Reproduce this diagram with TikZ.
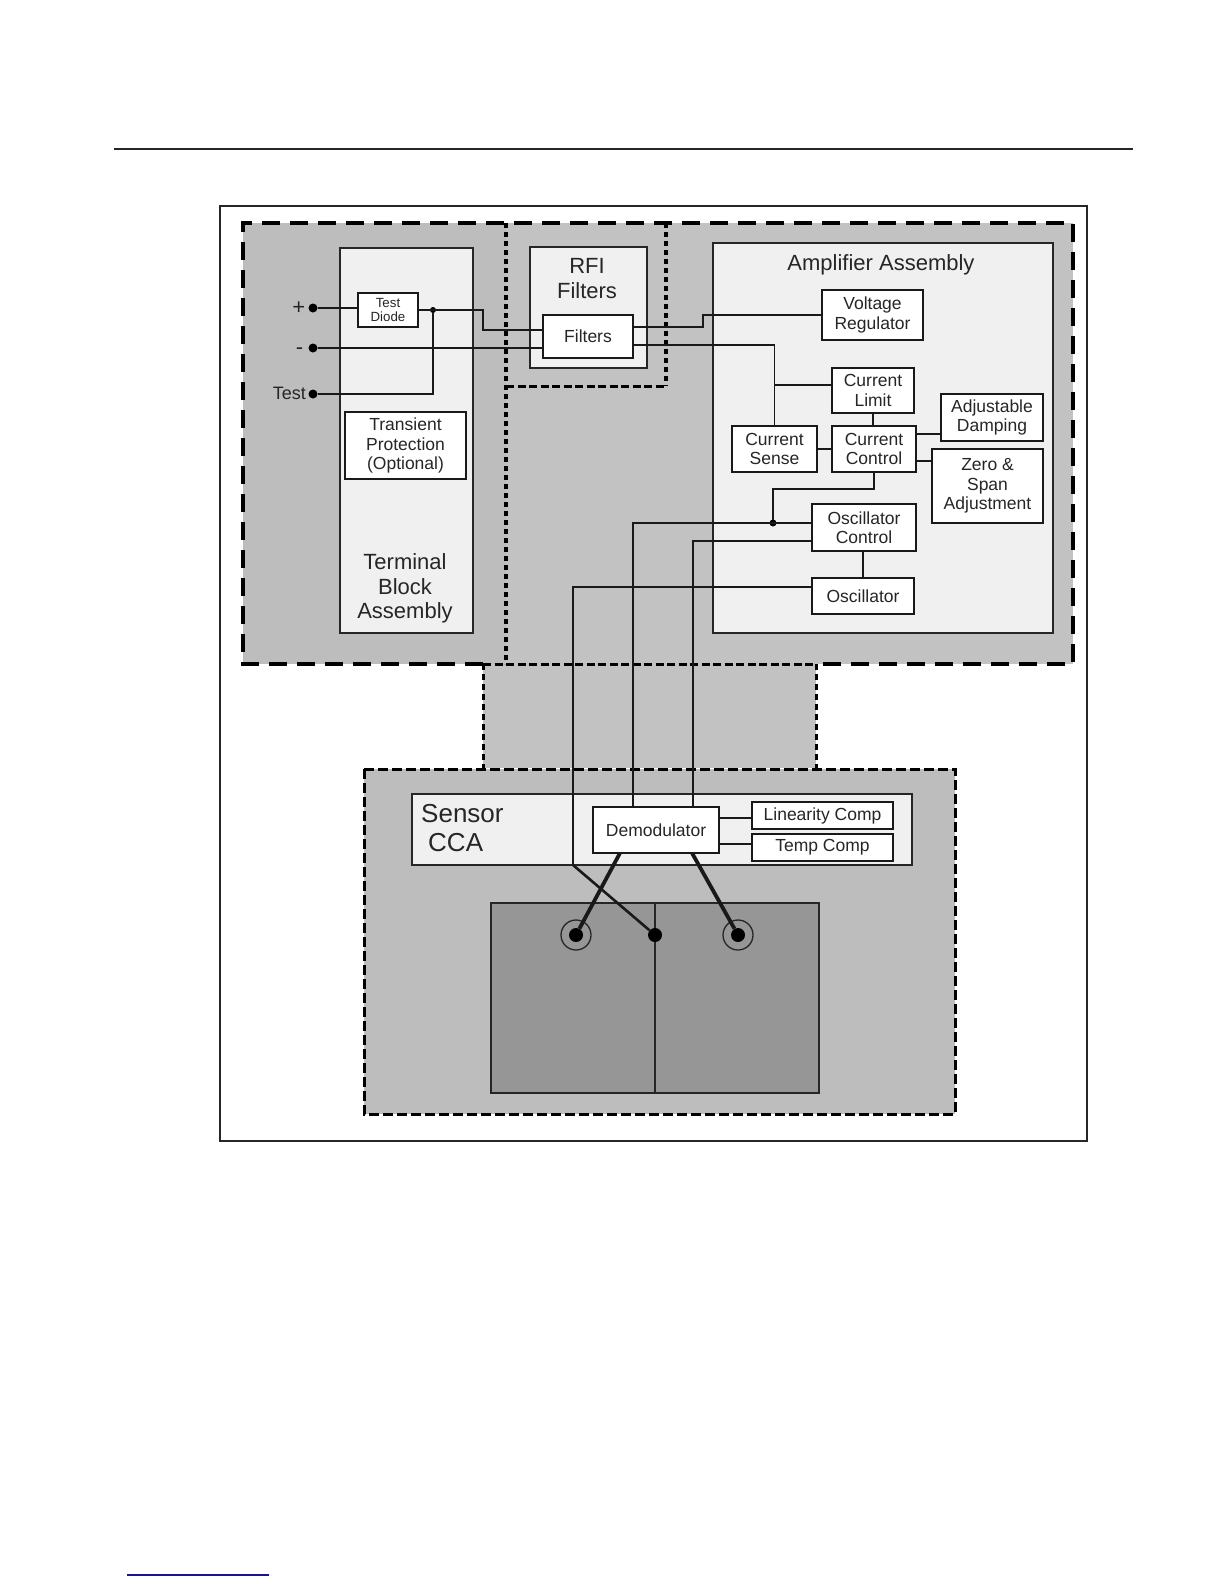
\documentclass[tikz,border=0pt]{standalone}
\usepackage{fontspec}
\setmainfont{Liberation Sans}
\usetikzlibrary{positioning,calc}
\definecolor{ZoneGray}{gray}{0.76}
\definecolor{ShadeGray}{gray}{0.74}
\definecolor{PlateGray}{gray}{0.59}
\definecolor{PanelGray}{gray}{0.94}
\definecolor{FootBlue}{RGB}{20,20,140}
\tikzset{
  every node/.style={text=black!85},
  wh/.style 2 args={minimum width=#1,minimum height=#2},
  zonefill/.style={fill=ZoneGray,inner sep=0,outer sep=0,anchor=north west},
  longdash/.style={line width=4pt,dash pattern=on 18pt off 10pt},
  middash/.style={line width=3pt,dash pattern=on 8pt off 3.5pt},
  sidedash/.style={line width=3pt,dash pattern=on 6pt off 4pt},
  dotline/.style={line width=3.2pt,dash pattern=on 5pt off 4pt},
  panel/.style={draw=black!85,fill=PanelGray,line width=1.5pt,inner sep=0,outer sep=0,anchor=north west},
  plate/.style={draw=black!85,fill=PlateGray,line width=1.5pt,inner sep=0,outer sep=0,anchor=north west},
  box/.style={draw=black!90,fill=white,line width=1.6pt,inner sep=0,outer sep=0,align=center,font=\fontsize{17.5}{19.5}\selectfont},
  smallbox/.style={box,font=\fontsize{13.3}{14.5}\selectfont},
  title/.style={inner sep=0,align=center,font=\fontsize{22}{24.5}\selectfont},
  term/.style={circle,fill=black,inner sep=0,outer sep=0,minimum size=9pt},
  joint/.style={circle,fill=black,inner sep=0,outer sep=0,minimum size=7pt},
  wire/.style={line width=1.5pt,draw=black!90},
  lead/.style={line width=3.8pt,draw=black!90},
}
\begin{document}
\begin{tikzpicture}[x=1pt,y=-1pt]
  \useasboundingbox (0,0) rectangle (1224,1584);
  % page rules and frame
  \coordinate (ruleL) at (114,149); \coordinate (ruleR) at (1133,149);
  \draw[line width=1.3pt,black!85] (ruleL)--(ruleR);
  \coordinate (footL) at (127,1575); \coordinate (footR) at (269,1575);
  \draw[line width=1.2pt,FootBlue] (footL)--(footR);
  \node[draw=black!85,line width=1.3pt,inner sep=0,outer sep=0,anchor=north west,wh={867}{935}] (frame) at (220,206) {};

  % shaded zones
  \node[zonefill,wh={830}{441}] (upper) at (243,223) {};
  \node[zonefill,fill=ShadeGray,wh={263}{441}] (leftzone) at (243,223) {};
  \node[zonefill,wh={160}{163}] (rfizone) at (506,223) {};
  \node[zonefill,wh={333}{104}] (midzone) at (483,664) {};
  \node[zonefill,fill=ShadeGray,wh={591}{345}] (sensorzone) at (364,769) {};
  \draw[longdash] (midzone.north west)--(upper.south west)--(upper.north west)--(upper.north east)--(upper.south east)--(midzone.north east);
  \draw[dotline] (rfizone.north west)--(rfizone.north west |- upper.south);
  \draw[dotline] (rfizone.north east)--(rfizone.south east);
  \draw[middash] (rfizone.south west)--(rfizone.south east);
  \draw[middash] (midzone.north west)--(midzone.north east);
  \draw[sidedash] (midzone.north west)--(midzone.south west);
  \draw[sidedash] (midzone.north east)--(midzone.south east);
  \draw[middash,dash pattern=on 10pt off 4pt] (sensorzone.north west)--(sensorzone.north east)--(sensorzone.south east)--(sensorzone.south west)--cycle;

  % panels
  \node[panel,wh={133}{385}] (termpanel) at (340,248) {};
  \node[panel,wh={117}{121}] (rfipanel) at (530,247) {};
  \node[panel,wh={340}{390}] (amppanel) at (713,243) {};
  \node[panel,wh={500}{71}] (sensorpanel) at (412,794) {};
  \node[plate,wh={164}{190}] (plateL) at (491,903) {};
  \node[plate,wh={164}{190}] (plateR) at (655,903) {};

  \node[title] (termtitle) at (405,588.5) {Terminal\\Block\\Assembly};
  \node[title] (rfititle) at (587,278.5) {RFI\\Filters};
  \node[title] (amptitle) at (881,265) {Amplifier Assembly};
  \node[title,align=left,anchor=west,font=\fontsize{26}{28.5}\selectfont] (sensortitle) at (421,828) {Sensor\\\hspace*{7pt}CCA};

  % terminals
  \node[term] (plusterm) at (313,308) {};
  \node[term] (minusterm) at (313,348) {};
  \node[term] (testterm) at (313,394) {};
  \node[title,left=3pt of plusterm] (pluslabel) {+};
  \node[title,left=5pt of minusterm,yshift=-3pt] (minuslabel) {-};
  \node[title,left=2.5pt of testterm,yshift=1pt,font=\fontsize{18}{20}\selectfont] (testlabel) {Test};

  % boxes
  \node[smallbox,wh={60}{34}] (diode) at (388,310) {Test\\Diode};
  \node[box,wh={121}{67}] (transient) at (405.5,445.5) {Transient\\Protection\\(Optional)};
  \node[box,wh={90}{43}] (filters) at (588,336.5) {Filters};
  \node[box,wh={101}{50}] (vreg) at (872.5,315) {Voltage\\Regulator};
  \node[box,wh={85}{46}] (csense) at (774.5,449) {Current\\Sense};
  \node[box,wh={84}{46},right=15pt of csense] (ccontrol) {Current\\Control};
  \node[box,wh={82}{45},above=13pt of ccontrol,xshift=-1pt] (climit) {Current\\Limit};
  \node[box,wh={102}{47}] (adjust) at (992,417.5) {Adjustable\\Damping};
  \node[box,wh={111}{74}] (zero) at (987.5,486) {Zero \&\\Span\\Adjustment};
  \node[box,wh={104}{47}] (oscctl) at (864,527.5) {Oscillator\\Control};
  \node[box,wh={102}{36}] (osc) at (863,596) {Oscillator};
  \node[box,wh={126}{46}] (demod) at (656,830) {Demodulator};
  \node[box,wh={141}{27}] (linear) at (822.5,815.5) {Linearity Comp};
  \node[box,wh={141}{27},below=5pt of linear] (temp) {Temp Comp};

  % contacts
  \node[circle,draw=black!85,line width=1.3pt,inner sep=0,minimum size=30pt] (ringL) at (576,935) {};
  \node[circle,draw=black!85,line width=1.3pt,inner sep=0,minimum size=30pt] (ringR) at (738,935) {};
  \node[circle,fill=black,inner sep=0,minimum size=14pt] (dotL) at (ringL) {};
  \node[circle,fill=black,inner sep=0,minimum size=14pt] (dotR) at (ringR) {};
  \node[circle,fill=black,inner sep=0,minimum size=14pt] (contact) at (655,935) {};
  \node[joint,minimum size=6pt] (diodejoint) at (433,310) {};
  \node[joint] (ctljoint) at (773,523) {};
  \coordinate (osctap) at (573,865);

  % wiring
  \draw[wire] (plusterm)--([yshift=2pt]diode.west);
  \draw[wire] (diode.east)--++(65,0) |- ([yshift=6.5pt]filters.west);
  \draw[wire] (minusterm)--([yshift=-11.5pt]filters.west);
  \draw[wire] (testterm) -| (diodejoint);
  \draw[wire] ([yshift=9.5pt]filters.east)--++(70,0) |- (vreg.west);
  \draw[wire] ([yshift=-8.5pt]filters.east) -| (csense.north);
  \draw[wire] ([yshift=5.5pt]climit.west) -| (csense.north);
  \draw[wire] (climit.south)--(climit.south |- ccontrol.north);
  \draw[wire] (csense.east)--(ccontrol.west);
  \draw[wire] ([yshift=15pt]ccontrol.east)--([yshift=-16.5pt]adjust.west);
  \draw[wire] ([yshift=-12pt]ccontrol.east)--([yshift=25pt]zero.west);
  \draw[wire] (ccontrol.south)--++(0,17) -| (ctljoint);
  \draw[wire] ([yshift=4.5pt]oscctl.west) -| ([xshift=-23pt]demod.north);
  \draw[wire] ([yshift=-13.5pt]oscctl.west) -| ([xshift=37pt]demod.north);
  \draw[wire] (oscctl.south -| osc.north)--(osc.north);
  \draw[wire] ([yshift=9pt]osc.west) -| (osctap);
  \draw[wire] ([yshift=12pt]demod.east)--([yshift=-2.5pt]linear.west);
  \draw[wire] ([yshift=-14pt]demod.east)--([yshift=3.5pt]temp.west);
  \draw[wire,line width=2.6pt] (osctap)--(contact);
  \draw[lead] ([xshift=-36pt]demod.south)--(dotL);
  \draw[lead] ([xshift=36pt]demod.south)--(dotR);
\end{tikzpicture}
\end{document}
